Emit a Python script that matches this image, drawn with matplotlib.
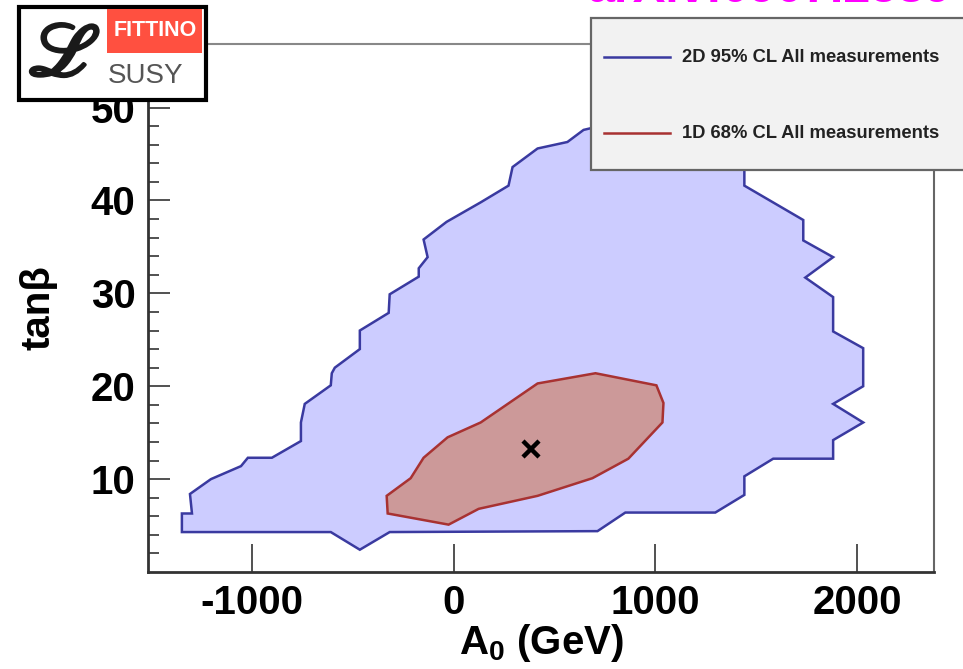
import matplotlib.pyplot as plt
import matplotlib.patheffects as pe
from matplotlib.patches import Rectangle
from matplotlib.lines import Line2D

plt.rcParams['font.family'] = ['Liberation Sans', 'DejaVu Sans']
plt.rcParams['axes.unicode_minus'] = False
plt.rcParams['mathtext.fontset'] = 'custom'
plt.rcParams['mathtext.rm'] = 'Liberation Sans:bold'
plt.rcParams['mathtext.it'] = 'Liberation Sans:bold'
plt.rcParams['mathtext.bf'] = 'Liberation Sans:bold'

# 2D 95% CL contour (A0 in GeV, tan beta)
blue_a0 = [-1347, -1347, -1297, -1307, -1203, -1054, -1020, -901, -757, -757,
           -738, -609, -604, -589, -465, -465, -322, -317, -173, -173,
           -129, -149, -35, 134, 272, 292, 416, 564, 644, 683,
           975, 1322, 1441, 1441, 1733, 1733, 1881, 1743, 1881, 1881,
           2030, 2030, 1881, 2030, 1881, 1881, 1584, 1441, 1441, 1297,
           851, 713, -317, -465, -609]
blue_tanb = [4.3, 6.3, 6.3, 8.4, 10.0, 11.4, 12.3, 12.3, 14.1, 16.1,
             18.1, 20.1, 21.4, 22.0, 24.0, 26.0, 27.9, 29.9, 31.8, 32.7,
             33.9, 35.8, 37.7, 39.8, 41.6, 43.6, 45.6, 46.3, 47.6, 47.8,
             48.9, 48.1, 43.8, 41.6, 37.9, 35.7, 33.9, 31.7, 29.6, 25.9,
             24.1, 20.0, 18.1, 16.1, 14.2, 12.2, 12.2, 10.3, 8.3, 6.4,
             6.4, 4.4, 4.3, 2.4, 4.3]

# 1D 68% CL contour
red_a0 = [-332, -327, -25, 124, 416, 688, 866, 1035, 1040, 1005,
          703, 416, 134, -30, -149, -213]
red_tanb = [8.2, 6.3, 5.1, 6.8, 8.2, 10.1, 12.2, 16.1, 18.2, 20.1,
            21.4, 20.3, 16.1, 14.5, 12.3, 10.1]

# best fit point
best_a0 = [381]
best_tanb = [13.2]

x_ticks = [-1000, 0, 1000, 2000]
y_ticks = [10, 20, 30, 40, 50]

blue_edge = '#3a3aa0'
red_edge = '#a83232'

W, H = 963, 669


def fx(px):
    return px / W


def fy(py):
    return 1 - py / H


fig = plt.figure(figsize=(9.63, 6.69), dpi=100)
ax = fig.add_axes([fx(148), fy(572), fx(934) - fx(148), fy(44) - fy(572)])

ax.fill(blue_a0, blue_tanb, facecolor='#ccccff', edgecolor=blue_edge, lw=1.8)
ax.fill(red_a0, red_tanb, facecolor='#cc9999', edgecolor=red_edge, lw=1.8)
ax.plot(best_a0, best_tanb, marker='x', color='black', markersize=12, mew=3.2, ls='none')

ax.set_xlim(-1515, 2381)
ax.set_ylim(0, 56.85)
ax.set_xticks(x_ticks)
ax.set_yticks(y_ticks)
ax.set_yticks([y for y in range(2, 56, 2) if y % 10], minor=True)

for lab in ax.get_xticklabels() + ax.get_yticklabels():
    lab.set_fontweight('bold')
ax.tick_params(axis='both', which='both', direction='in', labelsize=29, pad=9, color='#333333', width=1.2)
ax.tick_params(axis='x', which='major', length=20)
ax.tick_params(axis='y', which='major', length=16)
ax.tick_params(axis='y', which='minor', length=8)

ax.spines['left'].set_linewidth(2)
ax.spines['bottom'].set_linewidth(2)
ax.spines['left'].set_color('#333333')
ax.spines['bottom'].set_color('#333333')
ax.spines['top'].set_color('#888888')
ax.spines['right'].set_color('#666666')
ax.spines['top'].set_linewidth(1.5)
ax.spines['right'].set_linewidth(1.5)

ax.set_xlabel('A$_0$ (GeV)', fontsize=29, fontweight='bold', labelpad=0)
ax.set_ylabel('tan\u03b2', fontsize=29, fontweight='bold', labelpad=24)

# legend box
fig.add_artist(Rectangle((fx(591), fy(170)), fx(980) - fx(591), fy(18) - fy(170),
                         transform=fig.transFigure, facecolor='#f2f2f2',
                         edgecolor='#666666', lw=1.6, zorder=10))
entries = [(57, blue_edge, '2D 95% CL All measurements'),
           (133, red_edge, '1D 68% CL All measurements')]
for py, col, label in entries:
    fig.add_artist(Line2D([fx(604), fx(670)], [fy(py), fy(py)], transform=fig.transFigure,
                          color=col, lw=1.8, zorder=11))
    fig.text(fx(682), fy(py), label, fontsize=13.2, fontweight='bold', color='#222222',
             va='center', ha='left', zorder=11)

# Fittino logo
fig.add_artist(Rectangle((fx(19), fy(100)), fx(206) - fx(19), fy(7) - fy(100),
                         transform=fig.transFigure, facecolor='white',
                         edgecolor='black', lw=3, zorder=10))
fig.add_artist(Rectangle((fx(107), fy(53)), fx(202) - fx(107), fy(9) - fy(53),
                         transform=fig.transFigure, facecolor='#ff5040',
                         edgecolor='none', zorder=11))
fig.text(fx(155), fy(31), 'FITTINO', color='white', fontsize=15.5, fontweight='bold',
         ha='center', va='center', zorder=12)
fig.text(fx(146), fy(76), 'SUSY', color='#555555', fontsize=20,
         ha='center', va='center', zorder=12)
fig.text(fx(64), fy(56), r'$\mathscr{L}$', color='#1a1a1a', fontsize=54,
         math_fontfamily='stix', ha='center', va='center', zorder=12,
         path_effects=[pe.withStroke(linewidth=2.5, foreground='#1a1a1a')])

# cut-off reference text at the top edge
fig.text(fx(588), fy(2), 'arXiv:0907.2589', color='#ff00ff', fontsize=35,
         fontweight='bold', ha='left', va='baseline')

fig.savefig('out.png', dpi=100)
